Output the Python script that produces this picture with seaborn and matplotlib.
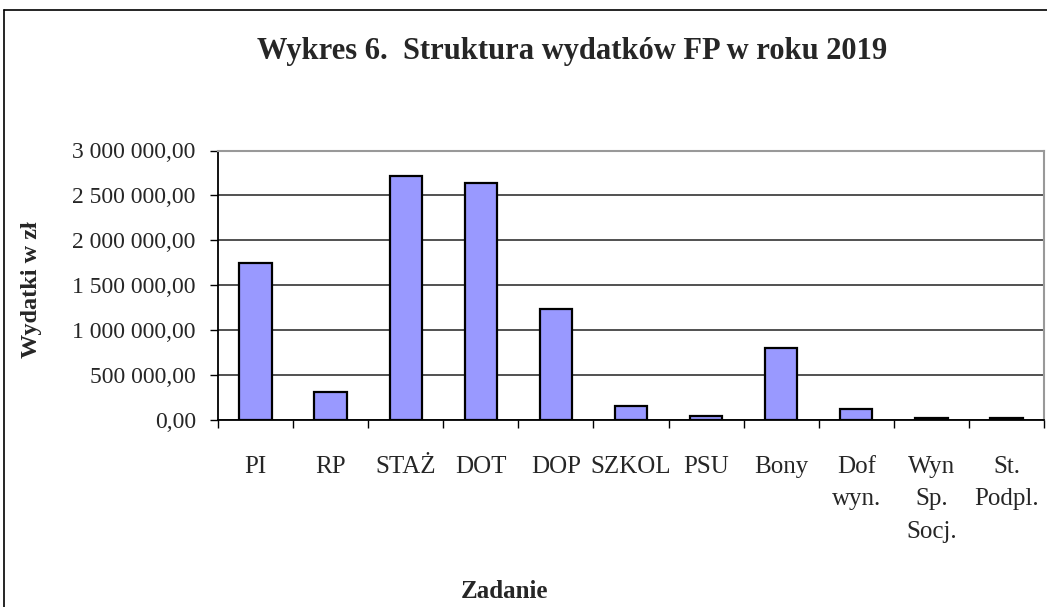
import pandas as pd
import seaborn as sns
import matplotlib.pyplot as plt
from matplotlib.lines import Line2D
from matplotlib.ticker import FuncFormatter, MultipleLocator

zadania = ["PI", "RP", "STAŻ", "DOT", "DOP", "SZKOL", "PSU", "Bony",
           "Dof\nwyn.", "Wyn\nSp.\nSocj.", "St.\nPodpl."]
wydatki = [1752000, 311000, 2711000, 2641000, 1240000, 155000, 44000,
           803000, 119000, 20000, 20000]

data = pd.DataFrame({"zadanie": zadania, "wydatki": wydatki})

sns.set_style("white")
plt.rcParams["font.family"] = ["Liberation Serif", "DejaVu Serif"]

fig = plt.figure(figsize=(10.47, 6.07), dpi=100)
ax = fig.add_axes([218 / 1047, 187 / 607, 826 / 1047, 269.5 / 607])

sns.barplot(data=data, x="zadanie", y="wydatki", color="#9999FF",
            saturation=1, edgecolor="black", linewidth=1.6, width=0.43, ax=ax)

ax.set_xlim(-0.5, len(zadania) - 0.5)
ax.set_ylim(0, 3000000)
ax.yaxis.set_major_locator(MultipleLocator(500000))
ax.yaxis.set_major_formatter(FuncFormatter(
    lambda v, p: f"{v:,.2f}".replace(",", " ").replace(".", ",")))

# grid lines behind the bars
ax.yaxis.grid(True, color="#222222", linewidth=1.1)
ax.set_axisbelow(True)

# category separators as minor ticks, labels at centres
ax.set_xticks([i - 0.5 for i in range(len(zadania) + 1)], minor=True)
ax.tick_params(axis="x", which="minor", length=6, width=1, color="black",
               direction="out", bottom=True)
ax.tick_params(axis="x", which="major", length=0, pad=26, labelsize=18)
ax.tick_params(axis="y", length=6, width=1, color="black", direction="out",
               left=True, pad=10, labelsize=17)
for lbl in ax.get_xticklabels():
    lbl.set_linespacing(1.6)
    lbl.set_verticalalignment("top")

for s in ["left", "bottom"]:
    ax.spines[s].set_color("black")
    ax.spines[s].set_linewidth(1.3)
for s in ["top", "right"]:
    ax.spines[s].set_color("#999999")
    ax.spines[s].set_linewidth(1.5)

ax.set_xlabel("")
ax.set_ylabel("")

fig.text(572 / 1047, 1 - 52 / 607, "Wykres 6.  Struktura wydatków FP w roku 2019",
         ha="center", va="center", fontsize=22, fontweight="bold")
fig.text(31 / 1047, 1 - 290 / 607, "Wydatki w zł", rotation=90,
         ha="center", va="center", fontsize=17.5, fontweight="bold")
fig.text(505 / 1047, 1 - 591 / 607, "Zadanie",
         ha="center", va="center", fontsize=18, fontweight="bold")

# outer chart frame (cropped on the right and bottom)
fig.add_artist(Line2D([4 / 1047, 4 / 1047], [0, 1 - 10 / 607],
                      transform=fig.transFigure, color="black", linewidth=1.2))
fig.add_artist(Line2D([4 / 1047, 1], [1 - 10 / 607, 1 - 10 / 607],
                      transform=fig.transFigure, color="black", linewidth=1.2))

fig.savefig("out.png", dpi=100)
